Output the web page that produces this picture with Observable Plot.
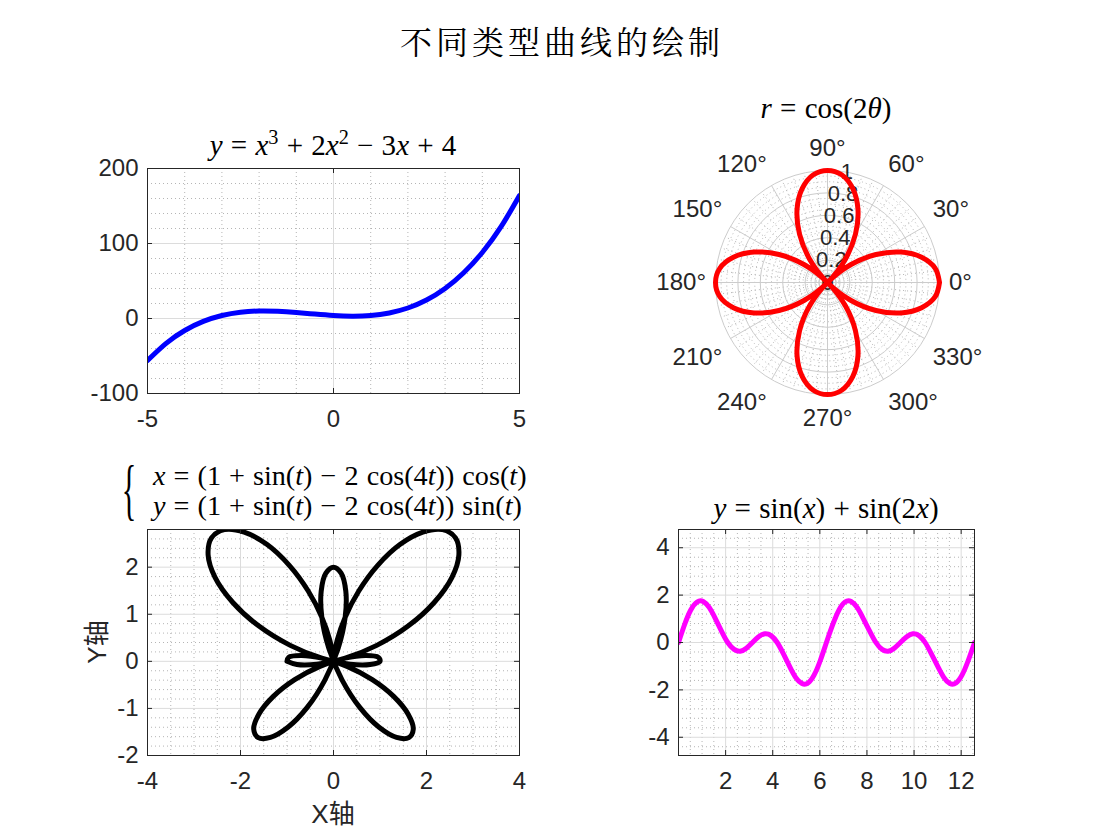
<!DOCTYPE html>
<html>
<head>
<meta charset="utf-8">
<script src="https://cdn.jsdelivr.net/npm/d3@7"></script>
<script src="https://cdn.jsdelivr.net/npm/@observablehq/plot@0.6"></script>
<style>
  body { margin: 0; background: #fff; }
  #fig { position: relative; width: 1120px; height: 840px; overflow: hidden; background: #fff; }
  #fig svg { position: absolute; left: 0; top: 0; }
</style>
</head>
<body>
<div id="fig"></div>
<script>
// ---------------- data ----------------
const mainTitle = "不同类型曲线的绘制";

// Panel 1: y = x^3 + 2x^2 - 3x + 4
const cubicX = [-5,-4.5,-4,-3.5,-3,-2.5,-2,-1.5,-1,-0.5,0,0.5,1,1.5,2,2.5,3,3.5,4,4.5,5];
const cubicY = [-56,-33.1,-16,-3.9,4,8.4,10,9.6,8,5.9,4,3.1,4,7.4,14,24.6,40,60.9,88,122.1,164];
const cubicXTicks = [-5,0,5];
const cubicYTicks = [-100,0,100,200];
const cubicXMinor = [-4,-3,-2,-1,1,2,3,4];
const cubicYMinor = [-80,-60,-40,-20,20,40,60,80,120,140,160,180];

// Panel 2: r = cos(2θ)
const roseTheta = [0,7.5,15,22.5,30,37.5,45,52.5,60,67.5,75,82.5,90,97.5,105,112.5,120,127.5,135,142.5,150,157.5,165,172.5,180,187.5,195,202.5,210,217.5,225,232.5,240,247.5,255,262.5,270,277.5,285,292.5,300,307.5,315,322.5,330,337.5,345,352.5,360];
const roseR = [1,0.97,0.87,0.71,0.5,0.26,0,-0.26,-0.5,-0.71,-0.87,-0.97,-1,-0.97,-0.87,-0.71,-0.5,-0.26,0,0.26,0.5,0.71,0.87,0.97,
               1,0.97,0.87,0.71,0.5,0.26,0,-0.26,-0.5,-0.71,-0.87,-0.97,-1,-0.97,-0.87,-0.71,-0.5,-0.26,0,0.26,0.5,0.71,0.87,0.97,1];
const roseRTicks = [0,0.2,0.4,0.6,0.8,1];
const roseRLabels = ["0","0.2","0.4","0.6","0.8","1"];
const roseThetaTicks = [0,30,60,90,120,150,180,210,240,270,300,330];
const roseRMinor = [0.05,0.1,0.15,0.25,0.3,0.35,0.45,0.5,0.55,0.65,0.7,0.75,0.85,0.9,0.95];
const rLabelAngle = 80;

// Panel 3: butterfly, r(t) = 1 + sin t - 2 cos 4t (t in degrees)
const butterflyT = [0,5,10,15,20,25,30,35,40,45,50,55,60,65,70,75,80,85,90,95,100,105,110,115,120,125,130,135,140,145,150,155,160,165,170,175,
                    180,185,190,195,200,205,210,215,220,225,230,235,240,245,250,255,260,265,270,275,280,285,290,295,300,305,310,315,320,325,330,335,340,345,350,355,360];
const butterflyR = [-1,-0.79,-0.36,0.26,0.99,1.77,2.5,3.11,3.52,3.71,3.65,3.35,2.87,2.25,1.59,0.97,0.45,0.12,0,0.12,0.45,0.97,1.59,2.25,2.87,3.35,3.65,3.71,3.52,3.11,2.5,1.77,0.99,0.26,-0.36,-0.79,
                    -1,-0.97,-0.71,-0.26,0.31,0.92,1.5,1.96,2.24,2.29,2.11,1.71,1.13,0.44,-0.29,-0.97,-1.52,-1.88,-2,-1.88,-1.52,-0.97,-0.29,0.44,1.13,1.71,2.11,2.29,2.24,1.96,1.5,0.92,0.31,-0.26,-0.71,-0.97,-1];
const butterflyXTicks = [-4,-2,0,2,4];
const butterflyYTicks = [-2,-1,0,1,2];
const butterflyXMinor = [-3.5,-3,-2.5,-1.5,-1,-0.5,0.5,1,1.5,2.5,3,3.5];
const butterflyYMinor = [-1.8,-1.6,-1.4,-1.2,-0.8,-0.6,-0.4,-0.2,0.2,0.4,0.6,0.8,1.2,1.4,1.6,1.8,2.2,2.4,2.6];

// Panel 4: y = sin(x) + sin(2x)
const waveX = [0,0.26,0.52,0.79,1.05,1.31,1.57,1.83,2.09,2.36,2.62,2.88,3.14,3.40,3.67,3.93,4.19,4.45,4.71,4.97,5.24,5.50,5.76,6.02,
               6.28,6.55,6.81,7.07,7.33,7.59,7.85,8.12,8.38,8.64,8.90,9.16,9.42,9.69,9.95,10.21,10.47,10.73,11.00,11.26,11.52,11.78,12.04,12.30,12.57];
const waveY = [0,0.76,1.37,1.71,1.73,1.47,1.00,0.47,0,-0.29,-0.37,-0.24,0,0.24,0.37,0.29,0,-0.47,-1.00,-1.47,-1.73,-1.71,-1.37,-0.76,
               0,0.76,1.37,1.71,1.73,1.47,1.00,0.47,0,-0.29,-0.37,-0.24,0,0.24,0.37,0.29,0,-0.47,-1.00,-1.47,-1.73,-1.71,-1.37,-0.76,0];
const waveXTicks = [2,4,6,8,10,12];
const waveYTicks = [-4,-2,0,2,4];
const waveXMinor = [0.5,1,1.5,2.5,3,3.5,4.5,5,5.5,6.5,7,7.5,8.5,9,9.5,10.5,11,11.5,12.5];
const waveYMinor = [-4.4,-3.6,-3.2,-2.8,-2.4,-1.6,-1.2,-0.8,-0.4,0.4,0.8,1.2,1.6,2.4,2.8,3.2,3.6,4.4];

// ---------------- layout / style ----------------
const W = 1120, H = 840;
const INK = "#262626";
const MAJOR = "#dcdcdc";
const MINOR = "#b5b5b5";
const SANS = '"Liberation Sans", Arial, Helvetica, sans-serif';
const LW = 5;
const fig = document.getElementById("fig");
const rad = d => d * Math.PI / 180;

function cartesianPanel(cfg) {
  const [l, t, r, b] = cfg.box;
  const fw = r - l, fh = b - t, tk = 5;
  return Plot.plot({
    width: W, height: H,
    marginLeft: l, marginRight: W - r, marginTop: t, marginBottom: H - b,
    x: {domain: cfg.xDomain},
    y: {domain: cfg.yDomain},
    style: {fontFamily: SANS, fontSize: "24px", color: INK, background: "transparent", overflow: "visible"},
    marks: [
      Plot.ruleX(cfg.xMinor, {stroke: MINOR, strokeDasharray: "1,3"}),
      Plot.ruleY(cfg.yMinor, {stroke: MINOR, strokeDasharray: "1,3"}),
      Plot.ruleX(cfg.xTicks, {stroke: MAJOR}),
      Plot.ruleY(cfg.yTicks, {stroke: MAJOR}),
      Plot.line(cfg.data, {x: "x", y: "y", stroke: cfg.stroke, strokeWidth: LW, curve: cfg.curve, clip: true}),
      Plot.frame({stroke: INK, strokeWidth: 1}),
      Plot.tickX(cfg.xTicks, {x: d => d, insetTop: fh - tk, stroke: INK}),
      Plot.tickX(cfg.xTicks, {x: d => d, insetBottom: fh - tk, stroke: INK}),
      Plot.tickY(cfg.yTicks, {y: d => d, insetRight: fw - tk, stroke: INK}),
      Plot.tickY(cfg.yTicks, {y: d => d, insetLeft: fw - tk, stroke: INK}),
      Plot.axisX(cfg.xTicks, {anchor: "bottom", tickSize: 0, tickPadding: 16, tickFormat: d => String(d), label: null}),
      Plot.axisY(cfg.yTicks, {anchor: "left", tickSize: 0, tickPadding: 9, tickFormat: d => String(d), label: null})
    ]
  });
}

// Panel 1
fig.append(cartesianPanel({
  box: [147, 168, 519, 393],
  xDomain: [-5, 5], yDomain: [-100, 200],
  xTicks: cubicXTicks, yTicks: cubicYTicks, xMinor: cubicXMinor, yMinor: cubicYMinor,
  data: cubicX.map((x, i) => ({x, y: cubicY[i]})),
  stroke: "#0000ff", curve: "natural"
}));

// Panel 3 (butterfly)
fig.append(cartesianPanel({
  box: [147, 529, 519, 755],
  xDomain: [-4, 4], yDomain: [-2, 2.8],
  xTicks: butterflyXTicks, yTicks: butterflyYTicks, xMinor: butterflyXMinor, yMinor: butterflyYMinor,
  data: butterflyT.map((t, i) => ({x: butterflyR[i] * Math.cos(rad(t)), y: butterflyR[i] * Math.sin(rad(t))})),
  stroke: "#000000", curve: "catmull-rom"
}));

// Panel 4 (wave)
fig.append(cartesianPanel({
  box: [678, 529, 974, 755],
  xDomain: [0, 12.566], yDomain: [-4.77, 4.77],
  xTicks: waveXTicks, yTicks: waveYTicks, xMinor: waveXMinor, yMinor: waveYMinor,
  data: waveX.map((x, i) => ({x, y: waveY[i]})),
  stroke: "#ff00ff", curve: "natural"
}));

// Panel 2 (polar)
{
  const cx = 827, cy = 282, R = 112;
  const thetaMinor = d3.range(0, 360, 6).filter(d => d % 30 !== 0);
  const rose = roseTheta.map((th, i) => ({th, r: roseR[i]}));
  const lab = 1.085;
  const hAnchor = a => { const c = Math.cos(rad(a)); return c > 0.01 ? "start" : c < -0.01 ? "end" : "middle"; };
  const vAnchor = a => { const s = Math.sin(rad(a)); return s > 0.01 ? "bottom" : s < -0.01 ? "top" : "middle"; };
  const groups = d3.groups(roseThetaTicks, a => hAnchor(a) + "|" + vAnchor(a));
  const thetaLabelMarks = groups.map(([key, arr]) => {
    const [ta, la] = key.split("|");
    return Plot.text(arr, {
      x: a => lab * Math.cos(rad(a)), y: a => lab * Math.sin(rad(a)),
      text: a => a + "°", textAnchor: ta, lineAnchor: la,
      dy: la === "bottom" ? -5 : la === "top" ? 5 : 0,
      fontSize: 24, fill: INK
    });
  });
  fig.append(Plot.plot({
    width: W, height: H,
    marginLeft: cx - R, marginRight: W - (cx + R), marginTop: cy - R, marginBottom: H - (cy + R),
    x: {domain: [-1, 1], axis: null},
    y: {domain: [-1, 1], axis: null},
    r: {type: "linear", domain: [0, 1], range: [0, R]},
    style: {fontFamily: SANS, fontSize: "22px", color: INK, background: "transparent", overflow: "visible"},
    marks: [
      Plot.dot(roseRMinor, {x: 0, y: 0, r: d => d, stroke: MINOR, strokeDasharray: "1,3", fill: "none", strokeWidth: 1}),
      Plot.link(thetaMinor, {x1: 0, y1: 0, x2: a => Math.cos(rad(a)), y2: a => Math.sin(rad(a)), stroke: MINOR, strokeDasharray: "1,3"}),
      Plot.dot(roseRTicks.filter(d => d > 0), {x: 0, y: 0, r: d => d, stroke: "#cccccc", fill: "none", strokeWidth: 1}),
      Plot.link(roseThetaTicks, {x1: 0, y1: 0, x2: a => Math.cos(rad(a)), y2: a => Math.sin(rad(a)), stroke: "#cccccc"}),
      Plot.text(roseRTicks, {
        x: d => d * Math.cos(rad(rLabelAngle)), y: d => d * Math.sin(rad(rLabelAngle)),
        text: (d, i) => roseRLabels[i], textAnchor: "middle", lineAnchor: "middle", fontSize: 22, fill: INK
      }),
      Plot.line(rose, {x: d => d.r * Math.cos(rad(d.th)), y: d => d.r * Math.sin(rad(d.th)), stroke: "#ff0000", strokeWidth: LW, curve: "catmull-rom"}),
      ...thetaLabelMarks
    ]
  }));
}

// ---------------- text overlay ----------------
const ov = d3.select(fig).append("svg").attr("width", W).attr("height", H);

ov.append("text")
  .attr("x", 562).attr("y", 54).attr("text-anchor", "middle")
  .attr("font-family", '"Noto Serif CJK SC", "Noto Sans CJK SC", sans-serif').attr("font-size", 32)
  .attr("letter-spacing", 4).attr("fill", "#000").text(mainTitle);

function math(x, y, anchor, parts, size = 29) {
  const t = ov.append("text").attr("x", x).attr("y", y).attr("text-anchor", anchor)
    .attr("font-family", '"Liberation Serif", "DejaVu Serif", serif').attr("font-size", size)
    .attr("fill", "#000").attr("word-spacing", 1).style("white-space", "pre");
  let shift = 0;
  for (const [s, k] of parts) {
    const ts = t.append("tspan").text(s);
    if (k === "i") ts.attr("font-style", "italic");
    if (k === "sup") { ts.attr("font-size", size * 0.7).attr("dy", -size * 0.38); shift = size * 0.38; }
    else if (shift) { ts.attr("dy", shift); shift = 0; }
  }
}

math(333, 155, "middle", [["y","i"],[" = ",""],["x","i"],["3","sup"],[" + 2",""],["x","i"],["2","sup"],[" − 3",""],["x","i"],[" + 4",""]]);
math(826, 118, "middle", [["r","i"],[" = cos(2",""],["θ","i"],[")",""]]);
math(826, 518, "middle", [["y","i"],[" = sin(",""],["x","i"],[") + sin(2",""],["x","i"],[")",""]]);
math(153, 485, "start", [["x","i"],[" = (1 + sin(",""],["t","i"],[") − 2 cos(4",""],["t","i"],[")) cos(",""],["t","i"],[")",""]], 28.2);
math(153, 515, "start", [["y","i"],[" = (1 + sin(",""],["t","i"],[") − 2 cos(4",""],["t","i"],[")) sin(",""],["t","i"],[")",""]], 28.2);

ov.append("text").attr("transform", "translate(129,512) scale(0.45,1)")
  .attr("text-anchor", "middle").attr("font-family", '"Liberation Serif", serif')
  .attr("font-size", 68).attr("fill", "#000").text("{");

ov.append("text").attr("x", 333).attr("y", 823).attr("text-anchor", "middle")
  .attr("font-family", '"Liberation Sans", "Noto Sans CJK SC", sans-serif').attr("font-size", 26)
  .attr("fill", INK).text("X轴");
ov.append("text").attr("transform", "translate(106,642) rotate(-90)").attr("text-anchor", "middle")
  .attr("font-family", '"Liberation Sans", "Noto Sans CJK SC", sans-serif').attr("font-size", 26)
  .attr("fill", INK).text("Y轴");
</script>
</body>
</html>
